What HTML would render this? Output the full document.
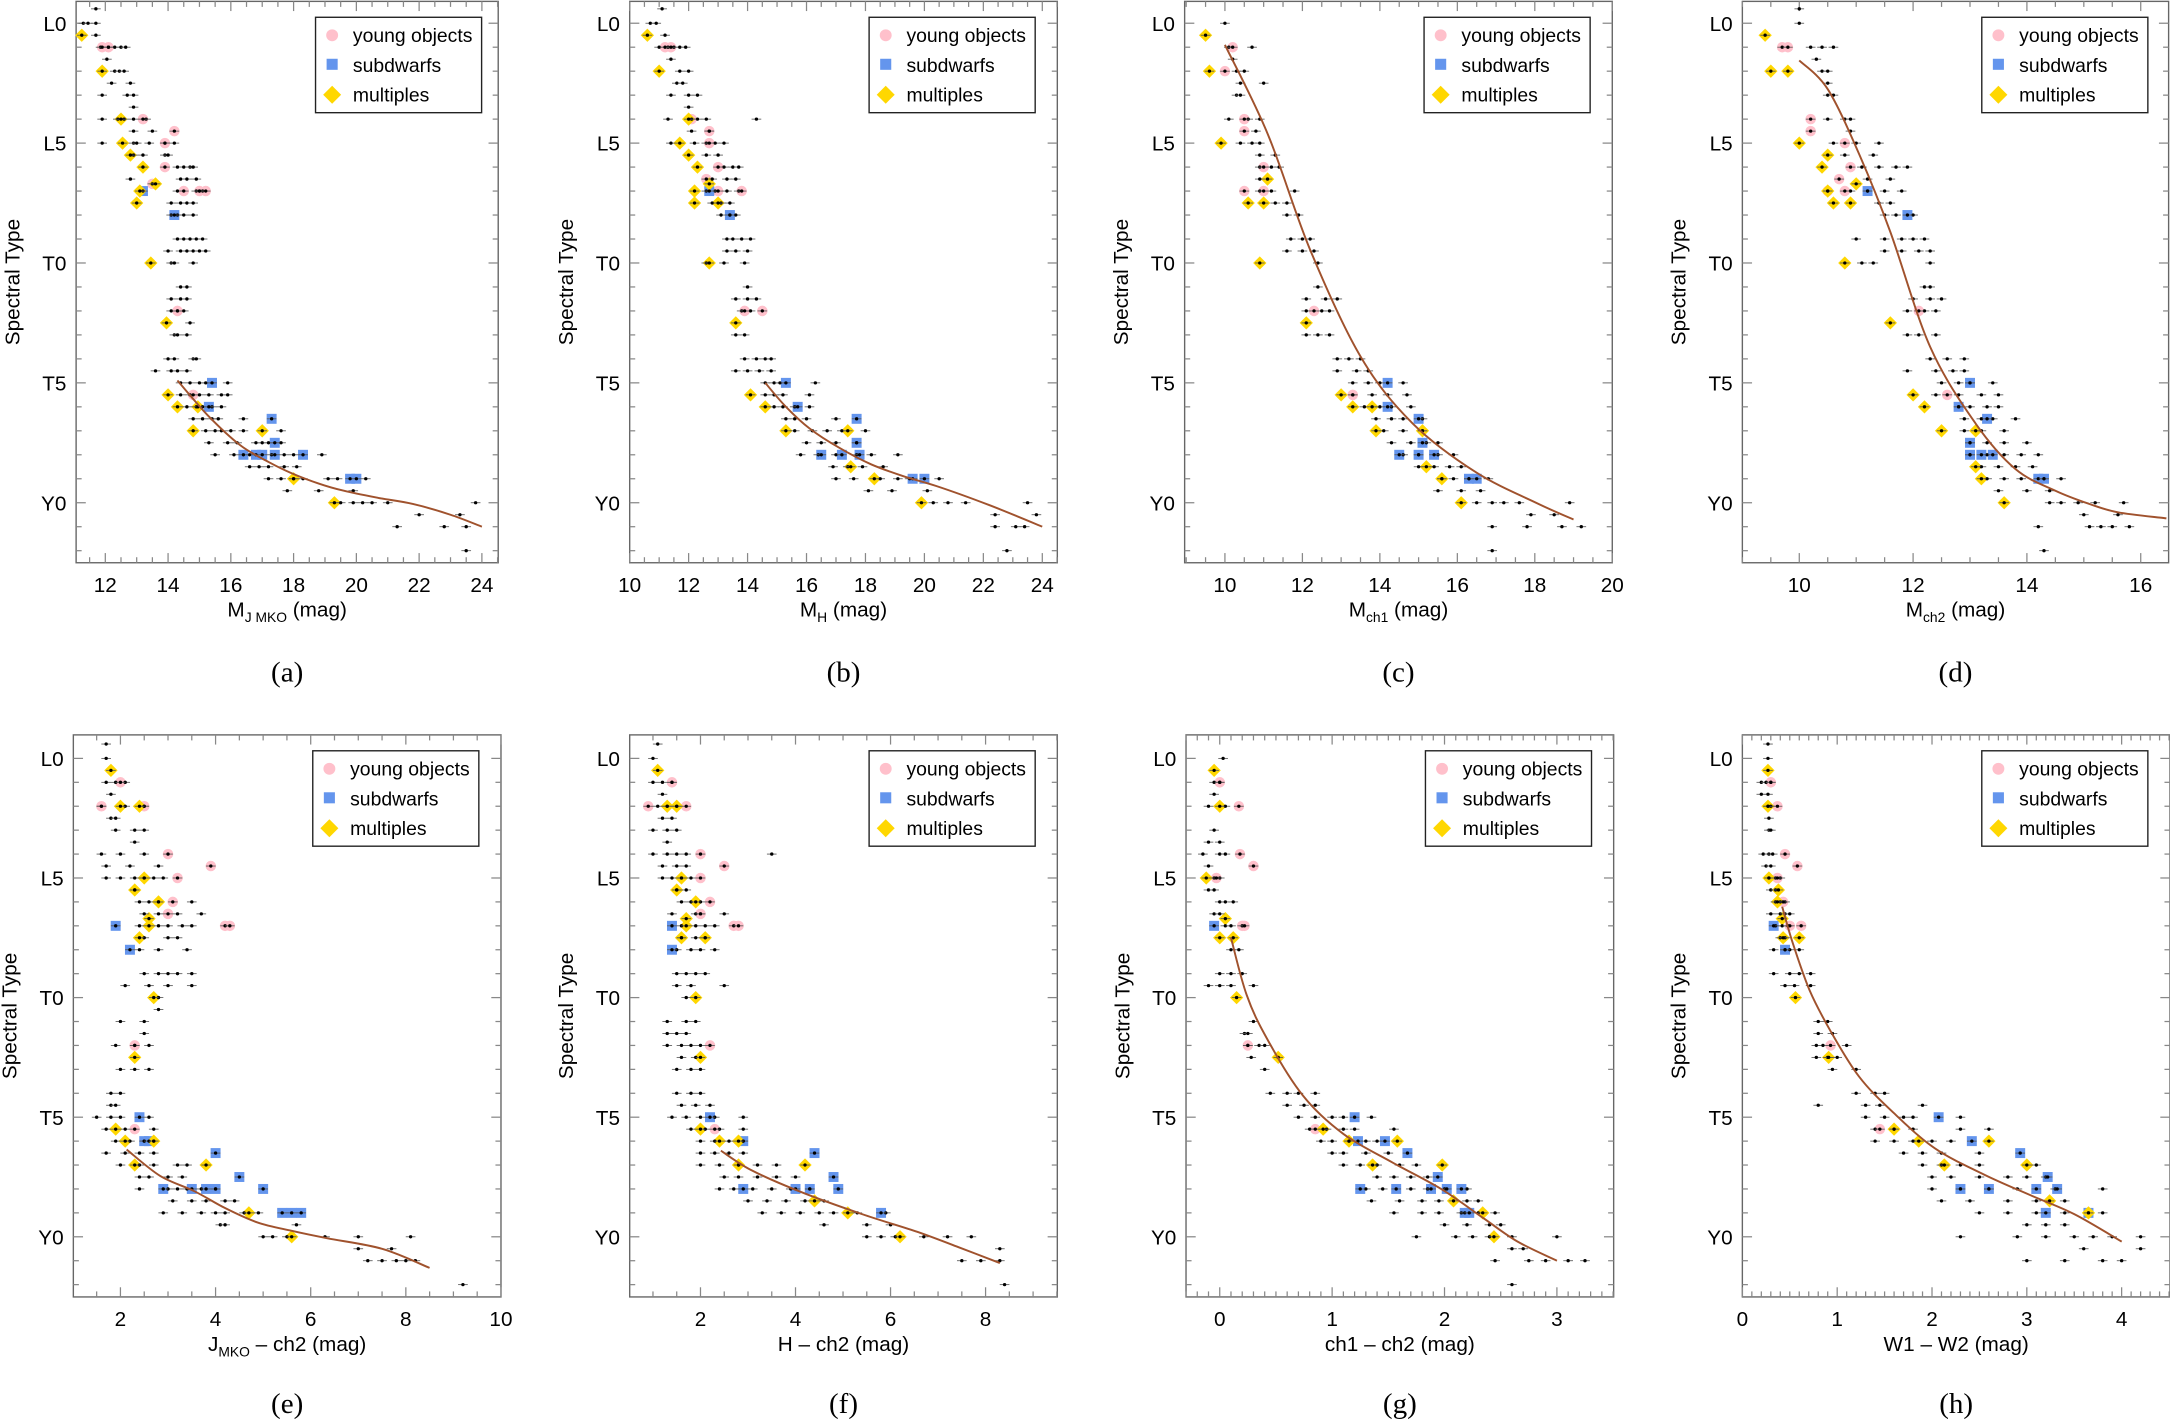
<!DOCTYPE html>
<html><head><meta charset="utf-8"><title>Spectral type relations</title>
<style>
html,body{margin:0;padding:0;background:#fff;}
svg{display:block;}
text{font-family:"Liberation Sans",Arial,sans-serif;fill:#000;}
.cap{font-family:"Liberation Serif","Times New Roman",serif;}
</style></head>
<body>
<svg id="fig" xmlns="http://www.w3.org/2000/svg" width="2170" height="1420" viewBox="0 0 1568 1027" preserveAspectRatio="none"></svg>
<script>
// ---------- DATA (spectral type index: L0=0, T0=10, Y0=20) ----------
const yTickLabels = ["L0","L5","T0","T5","Y0"];
const yTickValues = [0,5,10,15,20];

// Panel (a) M_J MKO
const aField = [[-0.6,[11.7]],[0,[11.3,11.45,11.7]],[0.5,[11.7]],[1,[11.85,12.1,12.3,12.5,12.65]],[1.5,[12.05]],[2,[12.3,12.45,12.6]],[2.5,[12.2,12.8]],[3,[11.9,12.7,12.9]],[3.5,[12.9]],[4,[11.9,12.4,12.6,12.9,13.3]],[4.5,[12.9,13.5]],[5,[11.9,12.9,13.0,13.4,13.9,14.2]],[5.5,[12.9,13.2,13.9,14.0]],[6,[14.3,14.5,14.7,14.8]],[6.5,[12.8,14.4,14.6,14.9]],[7,[14.3,14.9,15.0,15.1]],[7.5,[14.1,14.4,14.6,14.8]],[8,[14.1,14.3,14.5,14.8]],[9,[14.3,14.5,14.7,14.9,15.1]],[9.5,[14.0,14.4,14.6,14.8,15.0,15.2]],[10,[14.1,14.2,14.8]],[11,[14.4,14.6]],[11.5,[14.1,14.4,14.6]],[12,[14.1,14.3,14.5]],[12.5,[14.7]],[13,[14.2,14.3,14.6]],[14,[14.0,14.2,14.8,14.9]],[14.5,[13.6,14.1,14.3,14.6]],[15,[14.4,14.7,15.0,15.2,15.9]],[15.5,[14.4,14.7,15.0,15.3,15.7,15.9]],[16,[14.6,14.9,15.1,15.4,15.7]],[16.5,[14.8,15.1,15.4,15.6,16.4]],[17,[15.2,15.5,15.7,16.0,16.4,17.6]],[17.5,[15.3,15.9,16.2,16.8,17.0,17.2,17.6]],[18,[15.5,16.1,16.6,17.3,17.7,18.0,18.9]],[18.5,[16.6,16.9,17.2,17.7,18.1]],[19,[17.2,17.6,18.0,18.3,19.1,19.4,20.3]],[19.5,[17.8,18.8,19.9]],[20,[19.5,19.9,20.2,20.5,21.0,23.8]],[20.5,[22.0,23.3]],[21,[21.3,22.8,23.5]],[22,[23.5]]];
const aYoung = [[1,11.9],[1,12.1],[4,13.2],[4.5,14.2],[5,13.9],[6,13.9],[7,15.0],[7,15.2],[7,14.5],[6.7,13.5],[12,14.3],[15.5,14.8]];
const aSub = [[7,13.2],[8,14.2],[15,15.4],[16,15.3],[16.5,17.3],[17.5,17.4],[18,16.4],[18,16.8],[18,17.0],[18,17.4],[18,18.3],[19,19.8],[19,20.0]];
const aMult = [[0.5,11.25],[2,11.9],[4,12.5],[5,12.55],[5.5,12.8],[6,13.2],[6.7,13.6],[7,13.1],[7.5,13.0],[10,13.45],[12.5,13.95],[15.5,14.0],[16,14.3],[16,14.95],[17,14.8],[17,17.0],[19,18.0],[20,19.3]];
const aFitX = [14.3,15.3,16.3,17.2,17.9,18.8,19.6,20.7,21.8,23.0,24.0];
const aFitS = [14.9,16.4,17.6,18.3,18.75,19.2,19.5,19.8,20.05,20.5,21.0];

// Panel (b) M_H
const bField = [[-0.6,[11.1]],[0,[10.7,10.9]],[0.5,[11.2]],[1,[11.0,11.3,11.5,11.7,11.9]],[1.5,[11.4]],[2,[11.7,12.0]],[2.5,[11.6,11.8]],[3,[11.4,12.0,12.3]],[3.5,[12.0]],[4,[11.3,12.3,12.6,14.3]],[4.5,[12.1,12.7]],[5,[11.4,12.2,12.6,12.9,13.2]],[5.5,[12.6,13.0]],[6,[13.2,13.5,13.7]],[6.5,[12.8,13.3,13.6]],[7,[12.6,12.9,13.3,13.7]],[7.5,[12.8,13.1,13.4]],[8,[13.1,13.4,13.6]],[9,[13.3,13.5,13.8,14.1]],[9.5,[13.3,13.6,14.0]],[10,[12.6,13.2,13.9]],[11,[14.0]],[11.5,[13.6,14.0,14.3]],[12,[13.8,14.1]],[13,[13.6,13.9]],[14,[13.9,14.3,14.6,14.8]],[14.5,[13.6,14.0,14.4,14.8]],[15,[14.6,14.9,15.1,16.3]],[15.5,[14.6,14.9,15.2,16.1]],[16,[14.9,15.2,15.6,16.1]],[16.5,[15.3,15.6,16.0,17.0]],[17,[15.6,16.2,16.7,17.2,18.0]],[17.5,[16.0,16.5,17.0,17.7]],[18,[15.8,16.4,17.0,17.7,18.2,19.1]],[18.5,[16.9,17.4,17.9,18.6]],[19,[17.0,17.6,18.5,19.1,19.5,20.5]],[19.5,[18.1,18.9,20.1]],[20,[20.3,20.8,21.4,23.5]],[20.5,[22.4,23.8]],[21,[22.4,23.1,23.4]],[22,[22.8]]];
const bYoung = [[1,11.2],[1,11.4],[4,12.1],[4.5,12.7],[5,12.7],[6,13.0],[7,13.0],[7,13.8],[6.5,12.6],[12,13.9],[12,14.5]];
const bSub = [[7,12.7],[8,13.4],[15,15.3],[16,15.7],[16.5,17.7],[17.5,17.7],[18,16.5],[18,17.2],[18,17.8],[19,19.6],[19,20.0]];
const bMult = [[0.5,10.6],[2,11.0],[4,12.0],[5,11.7],[5.5,12.0],[6,12.3],[6.7,12.7],[7,12.2],[7.5,12.2],[7.5,13.0],[10,12.7],[12.5,13.6],[15.5,14.1],[16,14.6],[17,15.3],[17,17.4],[18.5,17.5],[19,18.3],[20,19.9]];
const bFitX = [14.6,15.3,16.1,17.1,18.2,19.3,20.4,22.2,24.0];
const bFitS = [15.0,16.0,16.9,17.7,18.4,18.9,19.3,20.1,21.0];

// Panel (c) M_ch1
const cField = [[0,[10.0]],[1,[10.1,10.7]],[1.5,[10.2]],[2,[10.3,10.5]],[2.5,[10.4,11.0]],[3,[10.3,10.4]],[4,[10.1,10.6,10.9]],[4.5,[10.8]],[5,[10.4,10.7,10.9]],[5.5,[10.9,11.3]],[6,[10.9,11.2,11.4]],[6.5,[10.9]],[7,[10.9,11.2,11.8]],[7.5,[11.3,11.6]],[8,[11.6,11.9]],[9,[11.7,12.0,12.2]],[9.5,[11.6,12.0,12.3]],[10,[12.4]],[11,[12.4]],[11.5,[12.1,12.6,12.9]],[12,[12.1,12.5,12.7]],[13,[12.1,12.4,12.7]],[14,[12.9,13.2,13.5]],[14.5,[12.9,13.4,13.7]],[15,[13.3,13.7,14.0,14.6]],[15.5,[13.3,13.8,14.2,14.7]],[16,[13.6,14.0,14.3,14.8]],[16.5,[13.9,14.3,14.6,15.1]],[17,[14.1,14.6,15.1]],[17.5,[14.3,14.8,15.2,15.5]],[18,[14.6,15.0,15.5,15.9]],[18.5,[15.0,15.4,15.8,16.1]],[19,[15.6,15.9,16.3,16.8]],[19.5,[15.5,16.1,16.6]],[20,[16.5,16.9,17.2,17.6,18.9]],[20.5,[17.9,18.5]],[21,[16.9,17.8,18.7,19.2]],[22,[16.9]]];
const cYoung = [[1,10.2],[2,10.0],[4,10.5],[4.5,10.5],[7,10.5],[7,11.0],[6,11.0],[12,12.3],[15.5,13.3]];
const cSub = [[15,14.2],[16,14.2],[16.5,15.0],[17.5,15.1],[18,14.5],[18,15.0],[18,15.4],[19,16.3],[19,16.5]];
const cMult = [[0.5,9.5],[2,9.6],[5,9.9],[6.5,11.1],[7.5,10.6],[7.5,11.0],[10,10.9],[12.5,12.1],[15.5,13.0],[16,13.3],[16,13.8],[17,13.9],[17,15.1],[18.5,15.2],[19,15.6],[20,16.1]];
const cFitX = [10.0,11.1,12.2,13.5,14.85,16.5,18.1,19.0];
const cFitS = [0.9,4.6,9.45,13.9,16.7,18.75,20.05,20.7];

// Panel (d) M_ch2
const dField = [[-0.6,[10.0]],[0,[10.0]],[1,[10.2,10.4,10.6]],[1.5,[10.3]],[2,[10.4,10.5]],[2.5,[10.5]],[3,[10.5,10.6]],[4,[10.5,10.8,10.9]],[4.5,[10.9]],[5,[10.6,11.0,11.4]],[5.5,[10.8,11.3]],[6,[11.1,11.4,11.7,11.9]],[6.5,[11.2,11.6]],[7,[10.9,11.2,11.5,11.8]],[7.5,[11.4,11.6]],[8,[11.5,11.7,12.0]],[9,[11.0,11.5,11.8,12.0,12.2]],[9.5,[11.5,11.8,12.1,12.3]],[10,[11.1,11.3,12.3]],[11,[12.2,12.3]],[11.5,[12.0,12.3,12.5]],[12,[11.9,12.2,12.4]],[13,[11.9,12.1,12.4]],[14,[12.3,12.6,12.9]],[14.5,[11.9,12.4,12.7,12.9]],[15,[12.5,12.8,13.0,13.4]],[15.5,[12.4,12.8,13.2,13.5]],[16,[12.8,13.0,13.3,13.5]],[16.5,[12.9,13.2,13.4,13.8]],[17,[12.9,13.2,13.6]],[17.5,[13.0,13.3,13.6,14.0]],[18,[13.0,13.3,13.6,13.9,14.2]],[18.5,[13.2,13.5,13.8,14.1]],[19,[13.3,13.6,13.9,14.3,14.6]],[19.5,[13.5,14.0,14.4]],[20,[14.4,14.6,14.9,15.2,15.7]],[20.5,[15.0,15.6]],[21,[14.2,15.1,15.3,15.5,15.8]],[22,[14.3]]];
const dYoung = [[1,9.7],[1,9.8],[4,10.2],[4.5,10.2],[5,10.8],[6,10.9],[6.5,10.7],[7,10.5],[7,10.8],[12,12.1],[15.5,12.6]];
const dSub = [[7,11.2],[8,11.9],[15,13.0],[16,12.8],[16.5,13.3],[17.5,13.0],[18,13.0],[18,13.2],[18,13.4],[19,14.2],[19,14.3]];
const dMult = [[0.5,9.4],[2,9.5],[2,9.8],[5,10.0],[5.5,10.5],[6,10.4],[6.7,11.0],[7,10.5],[7.5,10.6],[7.5,10.9],[10,10.8],[12.5,11.6],[15.5,12.0],[16,12.2],[17,12.5],[17,13.1],[18.5,13.1],[19,13.2],[20,13.6]];
const dFitX = [10.0,10.5,11.06,11.6,12.3,13.1,13.8,14.5,15.1,15.6,16.45];
const dFitS = [1.55,2.75,5.5,8.7,13.5,16.7,18.6,19.5,20.05,20.4,20.65];

// Panel (e) J_MKO - ch2
const eField = [[-0.6,[1.7]],[0,[1.7]],[1,[1.7,1.9,2.1]],[1.5,[1.8]],[2,[1.6,2.1,2.5]],[2.5,[1.8,1.9]],[3,[1.9,2.3,2.5]],[3.5,[2.3]],[4,[1.6,2.0,2.5]],[4.5,[1.7,2.2,2.8]],[5,[1.7,2.0,2.3,2.5,2.7,2.9]],[5.5,[2.3]],[6,[2.4,2.6,2.8,3.5]],[6.5,[2.5,2.8,3.2,3.7]],[7,[2.4,2.8,3.0,3.3,3.5]],[7.5,[2.5,3.0,3.2]],[8,[2.4,2.8,3.4]],[9,[2.5,2.8,3.0,3.2,3.5]],[9.5,[2.1,2.6,3.0,3.5]],[10,[2.8]],[10.5,[2.8]],[11,[2.0,2.5]],[11.5,[2.5]],[12,[1.9,2.3,2.6]],[13,[2.0,2.3,2.6]],[14,[1.8,2.0]],[14.5,[1.8,1.9]],[15,[1.5,1.8,2.0,2.6]],[15.5,[1.7,2.1,2.7]],[16,[1.9,2.2,2.5,2.7]],[16.5,[1.7,2.1,2.4,2.7]],[17,[2.0,2.4,2.7,3.2,3.4]],[17.5,[2.4,2.6,3.0,3.3]],[18,[2.4,3.0,3.2,3.4,3.7,4.0]],[18.5,[3.1,3.5,3.8,4.2,4.4]],[19,[2.9,3.3,3.7,4.0,4.2,4.6,4.9]],[19.5,[4.1,4.2,5.7]],[20,[5.0,5.2,5.5,6.3,7.0,8.1]],[20.5,[7.0,7.7]],[21,[7.2,7.5,7.8,8.0,8.2]],[22,[9.2]]];
const eYoung = [[1,2.0],[2,1.6],[2,2.5],[4,3.0],[4.5,3.9],[5,3.2],[6,3.1],[6.5,3.0],[7,4.2],[7,4.3],[12,2.3],[15.5,2.3]];
const eSub = [[7,1.9],[8,2.2],[15,2.4],[16,2.5],[16,2.6],[16.5,4.0],[17.5,4.5],[18,2.9],[18,3.5],[18,3.8],[18,4.0],[18,5.0],[19,5.4],[19,5.6],[19,5.8]];
const eMult = [[0.5,1.8],[2,2.0],[2,2.4],[5,2.5],[5.5,2.3],[6,2.8],[6.7,2.6],[7,2.6],[7.5,2.4],[10,2.7],[12.5,2.3],[15.5,1.9],[16,2.1],[16,2.7],[17,3.8],[17,2.3],[19,4.7],[20,5.6]];
const eFitX = [2.13,2.83,3.56,4.2,4.88,5.6,6.34,7.5,8.5];
const eFitS = [16.35,17.45,18.1,18.8,19.4,19.75,20.06,20.5,21.3];

// Panel (f) H - ch2
const fField = [[-0.6,[1.1]],[0,[1.0]],[1,[1.0,1.2,1.4]],[1.5,[1.2]],[2,[1.1,1.3,1.5]],[2.5,[1.2,1.4]],[3,[1.0,1.3,1.5]],[3.5,[1.3]],[4,[1.0,1.3,1.5,1.7,3.5]],[4.5,[1.2,1.5,1.7]],[5,[1.2,1.4,1.6,1.8]],[5.5,[1.5,1.7]],[6,[1.6,1.8,2.0]],[6.5,[1.4,1.9,2.0,2.5]],[7,[1.6,1.9,2.1,2.3]],[7.5,[1.6,1.9,2.1]],[8,[1.5,1.8,2.0,2.3]],[9,[1.5,1.7,1.9,2.1]],[9.5,[1.5,1.8,2.5]],[10,[1.7]],[11,[1.3,1.7,1.9]],[11.5,[1.3,1.5,1.7]],[12,[1.3,1.6,1.8,2.0]],[12.5,[1.6,1.9]],[13,[1.5,1.8,2.0]],[14,[1.5,1.8,2.0]],[14.5,[1.6,1.9,2.2]],[15,[1.4,1.7,2.0,2.3,2.9]],[15.5,[1.8,2.1,2.4,2.9]],[16,[2.0,2.3,2.6,2.9]],[16.5,[2.0,2.3,2.6,2.9]],[17,[2.0,2.4,2.8,3.2,3.6]],[17.5,[2.5,2.8,3.2,3.6,4.0]],[18,[2.4,2.7,3.1,3.5,3.9,4.3]],[18.5,[3.0,3.4,3.8,4.2,4.6]],[19,[3.3,3.7,4.1,4.5,4.8,5.3,5.9]],[19.5,[4.6,5.5,6.0]],[20,[5.5,5.8,6.1,6.7,7.2,7.7]],[20.5,[8.3]],[21,[7.5,7.9,8.3]],[22,[8.4]]];
const fYoung = [[1,1.4],[2,0.9],[2,1.7],[4,2.0],[4.5,2.5],[5,2.0],[6,2.2],[6.5,2.0],[7,2.7],[7,2.8],[12,2.2],[15.5,2.3]];
const fSub = [[7,1.4],[8,1.4],[15,2.2],[16,2.9],[16.5,4.4],[17.5,4.8],[18,2.9],[18,4.0],[18,4.3],[18,4.9],[19,5.8]];
const fMult = [[0.5,1.1],[2,1.3],[2,1.5],[5,1.6],[5.5,1.5],[6,1.9],[6.7,1.7],[7,1.7],[7.5,1.6],[7.5,2.1],[10,1.9],[12.5,2.0],[15.5,2.0],[16,2.4],[16,2.8],[17,2.8],[17,4.2],[18.5,4.4],[19,5.1],[20,6.2]];
const fFitX = [2.43,3.06,4.08,5.4,6.57,7.45,8.3];
const fFitS = [16.4,17.2,18.1,19.05,19.8,20.45,21.1];

// Panel (g) ch1 - ch2
const gField = [[0,[0.03]],[1,[-0.05,0.0]],[1.5,[-0.05]],[2,[-0.1,0.05]],[3,[-0.05]],[3.5,[-0.1,0.0]],[4,[-0.15,0.0,0.05]],[4.5,[-0.1]],[5,[-0.05,0.0]],[5.5,[-0.1,-0.05]],[6,[0.0,0.05,0.12]],[6.5,[-0.05,0.0]],[7,[0.05,0.1]],[8,[0.1,0.17]],[9,[0.0,0.1,0.2]],[9.5,[-0.1,0.0,0.1,0.3]],[11,[0.3]],[11.5,[0.22,0.25]],[12,[0.25,0.35,0.4]],[12.5,[0.28]],[13,[0.4]],[14,[0.45,0.6,0.7,0.85]],[14.5,[0.6,0.75,0.85]],[15,[0.7,0.85,1.0,1.1,1.35]],[15.5,[0.8,0.95,1.1,1.2,1.55]],[16,[0.9,1.0,1.15,1.3,1.4]],[16.5,[1.0,1.1,1.3,1.5]],[17,[1.1,1.25,1.4,1.6,1.75]],[17.5,[1.4,1.55,1.7,1.85]],[18,[1.3,1.45,1.7,1.85,2.0,2.2]],[18.5,[1.35,1.6,1.8,1.95,2.2,2.3]],[19,[1.55,1.8,1.95,2.15,2.3,2.45]],[19.5,[2.0,2.2,2.4,2.5]],[20,[1.75,2.1,2.25,2.4,2.6,3.0]],[20.5,[2.6,2.7]],[21,[2.45,2.75,2.9,3.1,3.25]],[22,[2.6]]];
const gYoung = [[1,0.0],[2,0.17],[4,0.18],[4.5,0.3],[5,-0.03],[7,0.2],[7,0.22],[12,0.25],[15.5,0.85]];
const gSub = [[7,-0.05],[15,1.2],[16,1.23],[16,1.47],[16.5,1.67],[17.5,1.94],[18,1.25],[18,1.57],[18,1.88],[18,2.02],[18,2.15],[19,2.18],[19,2.22]];
const gMult = [[0.5,-0.05],[2,0.0],[5,-0.12],[6.7,0.05],[7.5,0.0],[7.5,0.12],[10,0.15],[12.5,0.52],[15.5,0.92],[16,1.15],[16,1.58],[17,1.36],[17,1.98],[18.5,2.08],[19,2.34],[20,2.44]];
const gFitX = [0.1,0.24,0.43,0.74,1.1,1.54,1.97,2.34,2.65,3.0];
const gFitS = [7.5,9.9,11.8,14.1,15.7,16.9,18.0,19.2,20.2,21.0];

// Panel (h) W1 - W2
const hField = [[-0.6,[0.27]],[0,[0.27]],[1,[0.2,0.25,0.3]],[1.5,[0.2,0.27]],[2,[0.27,0.3]],[2.5,[0.28]],[3,[0.28,0.3]],[4,[0.22,0.28,0.32]],[4.5,[0.25,0.3]],[5,[0.28,0.35,0.4]],[5.5,[0.3,0.35]],[6,[0.35,0.4,0.45]],[6.5,[0.3,0.4,0.45,0.5]],[7,[0.35,0.42,0.48]],[7.5,[0.4,0.45]],[8,[0.33,0.45,0.5,0.6]],[9,[0.33,0.5,0.6,0.72]],[9.5,[0.45,0.55,0.72]],[11,[0.8,0.9]],[11.5,[0.8,0.95]],[12,[0.78,0.85,1.1]],[12.5,[0.78,0.9,1.0]],[13,[0.95,1.2]],[14,[1.2,1.4,1.5]],[14.5,[0.8,1.3,1.45,1.9]],[15,[1.3,1.5,1.7,1.8,2.3]],[15.5,[1.4,1.6,1.8,2.3,2.6]],[16,[1.4,1.6,1.8,2.0,2.2]],[16.5,[1.7,1.9,2.1,2.5]],[17,[1.9,2.1,2.3,2.5,3.1]],[17.5,[2.0,2.2,2.5,2.8,3.0,3.2]],[18,[2.0,2.3,2.6,2.9,3.3,3.8]],[18.5,[2.1,2.4,2.8,3.1,3.4]],[19,[2.5,2.8,3.1,3.4,3.8]],[19.5,[3.0,3.2,3.4]],[20,[2.3,2.9,3.2,3.5,3.7,3.9,4.2]],[20.5,[3.6,4.2]],[21,[3.0,3.4,3.8,4.0]]];
const hYoung = [[1,0.3],[2,0.37],[4,0.45],[4.5,0.58],[5,0.37],[6,0.43],[7,0.5],[7,0.62],[12,0.93],[15.5,1.45]];
const hSub = [[7,0.33],[8,0.45],[15,2.07],[16,2.42],[16.5,2.93],[17.5,3.22],[18,2.3],[18,2.6],[18,3.1],[18,3.32],[19,3.2],[19,3.65]];
const hMult = [[0.5,0.27],[2,0.27],[5,0.28],[5.5,0.38],[6,0.37],[6.7,0.42],[7.5,0.43],[7.5,0.6],[10,0.56],[12.5,0.91],[15.5,1.6],[16,1.86],[16,2.6],[17,2.13],[17,3.0],[18.5,3.24],[19,3.65]];
const hFitX = [0.42,0.53,0.71,0.93,1.23,1.59,2.03,2.55,3.06,3.5,4.0];
const hFitS = [6.2,7.7,9.7,11.4,13.3,14.8,16.3,17.4,18.3,19.05,20.2];

const aTicks=[12,14,16,18,20,22,24], bTicks=[10,12,14,16,18,20,22,24], cTicks=[10,12,14,16,18,20], dTicks=[10,12,14,16];
const eTicks=[2,4,6,8,10], fTicks=[2,4,6,8], gTicks=[0,1,2,3], hTicks=[0,1,2,3,4];

// ---------- LAYOUT ----------
const NS="http://www.w3.org/2000/svg";
const svg=document.getElementById('fig');
function mk(tag,attrs,parent){const e=document.createElementNS(NS,tag);for(const k in attrs)e.setAttribute(k,attrs[k]);(parent||svg).appendChild(e);return e;}

function smoothPath(pts){
  let d='M'+pts[0][0].toFixed(1)+','+pts[0][1].toFixed(1);
  for(let i=0;i<pts.length-1;i++){
    const p0=pts[Math.max(0,i-1)],p1=pts[i],p2=pts[i+1],p3=pts[Math.min(pts.length-1,i+2)];
    const c1=[p1[0]+(p2[0]-p0[0])/6,p1[1]+(p2[1]-p0[1])/6];
    const c2=[p2[0]-(p3[0]-p1[0])/6,p2[1]-(p3[1]-p1[1])/6];
    d+=' C'+c1[0].toFixed(1)+','+c1[1].toFixed(1)+' '+c2[0].toFixed(1)+','+c2[1].toFixed(1)+' '+p2[0].toFixed(1)+','+p2[1].toFixed(1);
  }
  return d;
}

const rows=[{top:1,bottom:407,s0:16.8,ds:17.34,tickY:428,titleY:446,capY:493},
            {top:531.5,bottom:938,s0:548.5,ds:17.3,tickY:959,titleY:977,capY:1022}];

const panels=[
 {id:'a',row:0,left:55,right:360,vL:11.07,vR:24.52,ticks:aTicks,minor:0.5,field:aField,young:aYoung,sub:aSub,mult:aMult,fx:aFitX,fs:aFitS,title:[['M',0],['J MKO',1],[' (mag)',0]]},
 {id:'b',row:0,left:455,right:764,vL:10,vR:24.51,ticks:bTicks,minor:0.5,field:bField,young:bYoung,sub:bSub,mult:bMult,fx:bFitX,fs:bFitS,title:[['M',0],['H',1],['  (mag)',0]]},
 {id:'c',row:0,left:856,right:1165,vL:8.96,vR:20,ticks:cTicks,minor:0.5,field:cField,young:cYoung,sub:cSub,mult:cMult,fx:cFitX,fs:cFitS,title:[['M',0],['ch1',1],['  (mag)',0]]},
 {id:'d',row:0,left:1259,right:1567,vL:9.0,vR:16.49,ticks:dTicks,minor:0.5,field:dField,young:dYoung,sub:dSub,mult:dMult,fx:dFitX,fs:dFitS,title:[['M',0],['ch2',1],['  (mag)',0]]},
 {id:'e',row:1,left:53,right:362,vL:1.01,vR:10,ticks:eTicks,minor:0.5,field:eField,young:eYoung,sub:eSub,mult:eMult,fx:eFitX,fs:eFitS,title:[['J',0],['MKO',1],[' – ch2 (mag)',0]]},
 {id:'f',row:1,left:455,right:764,vL:0.51,vR:9.51,ticks:fTicks,minor:0.5,field:fField,young:fYoung,sub:fSub,mult:fMult,fx:fFitX,fs:fFitS,title:[['H – ch2 (mag)',0]]},
 {id:'g',row:1,left:857,right:1166,vL:-0.30,vR:3.505,ticks:gTicks,minor:0.1,field:gField,young:gYoung,sub:gSub,mult:gMult,fx:gFitX,fs:gFitS,title:[['ch1 – ch2 (mag)',0]]},
 {id:'h',row:1,left:1259,right:1568,vL:0,vR:4.51,ticks:hTicks,minor:0.1,field:hField,young:hYoung,sub:hSub,mult:hMult,fx:hFitX,fs:hFitS,title:[['W1 – W2 (mag)',0]]}
];

panels.forEach(p=>{
  const r=rows[p.row];
  const X=v=>p.left+(v-p.vL)/(p.vR-p.vL)*(p.right-p.left);
  const Y=s=>r.s0+s*r.ds;
  const g=mk('g',{});
  
  

  const fr=mk('rect',{x:p.left,y:r.top,width:p.right-p.left,height:r.bottom-r.top,fill:'none',stroke:'#666','stroke-width':1},g);
  
  

  const yt=mk('g',{stroke:'#888','stroke-width':0.9},g);
  
  
  for(let s=0;s<=22;s++){
    const yy=Y(s);if(yy>r.bottom||yy<r.top)continue;
    const L=(s%5===0)?7:4;
    mk('line',{x1:p.left,x2:p.left+L,y1:yy,y2:yy},yt);
    mk('line',{x1:p.right-L,x2:p.right,y1:yy,y2:yy},yt);
  }
  yTickLabels.forEach((lab,i)=>{
    const t=mk('text',{x:p.left-7,y:Y(yTickValues[i])+5.5,'text-anchor':'end','font-size':15},g);
    t.textContent=lab;
    
    
  });
  const yl=mk('text',{x:0,y:0,'text-anchor':'middle','font-size':15,transform:`translate(${p.left-41},${(r.top+r.bottom)/2}) rotate(-90)`},g);
  yl.textContent='Spectral Type';
  
  

  const xt=mk('g',{stroke:'#888','stroke-width':0.9},g);
  
  
  const n0=Math.ceil(p.vL/p.minor-1e-6), n1=Math.floor(p.vR/p.minor+1e-6);
  for(let n=n0;n<=n1;n++){
    const v=n*p.minor, xx=X(v);
    const major=p.ticks.some(t=>Math.abs(t-v)<1e-6);
    const L=major?7:4;
    mk('line',{x1:xx,x2:xx,y1:r.bottom,y2:r.bottom-L},xt);
    mk('line',{x1:xx,x2:xx,y1:r.top,y2:r.top+L},xt);
  }
  p.ticks.forEach(v=>{
    const t=mk('text',{x:X(v),y:r.tickY,'text-anchor':'middle','font-size':15},g);
    t.textContent=String(v);
    
    
  });
  const xtitle=mk('text',{x:(p.left+p.right)/2,y:r.titleY,'text-anchor':'middle','font-size':15},g);
  
  
  let prevSub=false;
  p.title.forEach(([s,sub])=>{
    const attrs=sub?{'font-size':10,dy:4}:{dy:prevSub?-4:0};
    const ts=mk('tspan',attrs,xtitle);
    ts.textContent=s;
    prevSub=!!sub;
  });

  const cap=mk('text',{x:(p.left+p.right)/2,y:r.capY,'text-anchor':'middle','font-size':21,class:'cap'},g);
  cap.textContent='('+p.id+')';
  
  

  const ly=mk('g',{},g);
  
  
  p.young.forEach(([s,v])=>{
    const c=mk('circle',{cx:X(v),cy:Y(s),r:3.8,fill:'#ffc0cb'},ly);
    
    
  });
  const ls=mk('g',{},g);
  
  
  p.sub.forEach(([s,v])=>{
    const q=mk('rect',{x:X(v)-3.6,y:Y(s)-3.6,width:7.2,height:7.2,fill:'#6495ed'},ls);
    
    
  });
  const lm=mk('g',{},g);
  
  
  p.mult.forEach(([s,v])=>{
    const x=X(v),y=Y(s);
    const d=mk('polygon',{points:`${x},${y-4.8} ${x+4.8},${y} ${x},${y+4.8} ${x-4.8},${y}`,fill:'#ffd700'},lm);
    
    
  });

  const lf=mk('g',{},g);
  
  
  const allPts=[];
  p.field.forEach(([s,vals])=>vals.forEach(v=>allPts.push([s,v])));
  p.young.concat(p.sub,p.mult).forEach(pt=>allPts.push(pt));
  allPts.forEach(([s,v])=>{
    const x=X(v),y=Y(s);
    const eb=mk('line',{x1:x-3.5,x2:x+3.5,y1:y,y2:y,stroke:'#555','stroke-width':0.6},lf);
    
    
    const c=mk('circle',{cx:x,cy:y,r:1.2,fill:'#000'},lf);
    
    
  });

  const fitPts=p.fx.map((v,i)=>[X(v),Y(p.fs[i])]);
  const fit=mk('path',{d:smoothPath(fitPts),fill:'none',stroke:'#a0522d','stroke-width':1.4,'stroke-linejoin':'round'},g);
  
  

  const lx=p.left+173, ltop=r.top+11.5;
  const leg=mk('g',{},g);
  
  
  mk('rect',{x:lx,y:ltop,width:120,height:69,fill:'#fff',stroke:'#222','stroke-width':1},leg);
  const e1=mk('circle',{cx:lx+12,cy:ltop+13,r:4.3,fill:'#ffc0cb'},leg);
  
  
  const e2=mk('rect',{x:lx+8,y:ltop+30,width:8,height:8,fill:'#6495ed'},leg);
  
  
  const mx=lx+12,my=ltop+56;
  const e3=mk('polygon',{points:`${mx},${my-6.5} ${mx+6.5},${my} ${mx},${my+6.5} ${mx-6.5},${my}`,fill:'#ffd700'},leg);
  
  
  [['young objects',13],['subdwarfs',34.5],['multiples',56]].forEach(([s,dy])=>{
    const t=mk('text',{x:lx+27,y:ltop+dy+5,'font-size':14},leg);
    t.textContent=s;
    
    
  });
});
</script>
</body></html>
